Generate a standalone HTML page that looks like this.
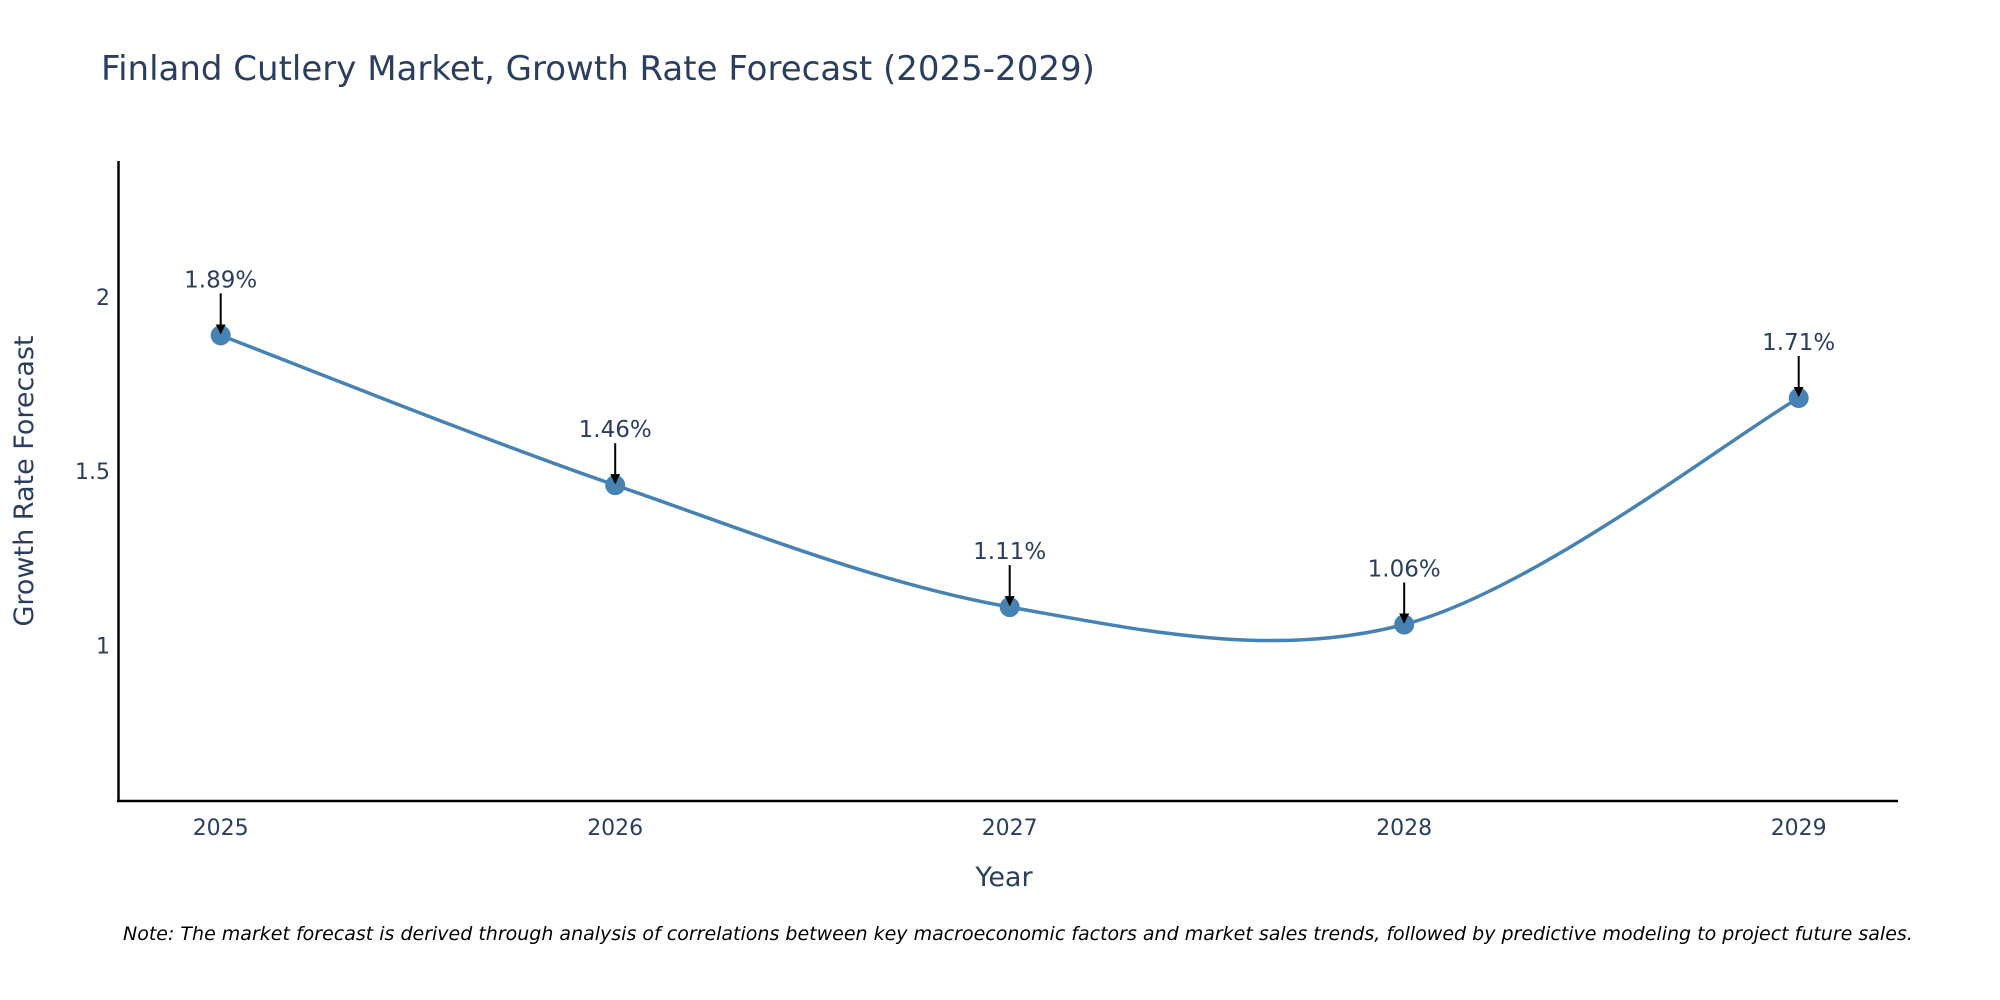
<!DOCTYPE html>
<html><head><meta charset="utf-8">
<style>
body{margin:0;background:#fff;}
svg{display:block;font-family:"DejaVu Sans","Liberation Sans",sans-serif;}
</style></head>
<body>
<svg id="chart" width="2000" height="1000" viewBox="0 0 2000 1000">
<defs>
<marker id="ah" markerWidth="10" markerHeight="10" refX="9" refY="5" orient="auto" markerUnits="userSpaceOnUse" viewBox="0 0 10 10">
<path d="M0,0 L10,5 L0,10 Z" fill="#000"/>
</marker>
</defs>
<text x="101" y="80" font-size="34" fill="#2a3f5f">Finland Cutlery Market, Growth Rate Forecast (2025-2029)</text>
<g id="ticks"></g>
<line x1="118.5" y1="161" x2="118.5" y2="802" stroke="#000" stroke-width="2.5"/>
<line x1="117" y1="801" x2="1898" y2="801" stroke="#000" stroke-width="2.5"/>
<path id="line" fill="none" stroke="#4682b4" stroke-width="3.5"/>
<g id="marks"></g>
<text x="1004" y="886" font-size="27" fill="#2a3f5f" text-anchor="middle">Year</text>
<text transform="translate(33,481) rotate(-90)" font-size="27" fill="#2a3f5f" text-anchor="middle">Growth Rate Forecast</text>
<text x="123" y="940" font-size="19" font-style="italic" fill="#000">Note: The market forecast is derived through analysis of correlations between key macroeconomic factors and market sales trends, followed by predictive modeling to project future sales.</text>
</svg>
<script>
const years = ["2025","2026","2027","2028","2029"];
const values = [1.89, 1.46, 1.11, 1.06, 1.71];
const yTicks = [1, 1.5, 2];
const yTickLabels = ["1","1.5","2"];

const x0 = 220.7, dx = 394.5;
function xs(i){ return x0 + i*dx; }
function ys(v){ return 645.4 - (v-1)*348.4; }
const NS = "http://www.w3.org/2000/svg";
const ticks = document.getElementById('ticks');
const marks = document.getElementById('marks');
function mk(tag, attrs, parent){ const e=document.createElementNS(NS,tag); for(const k in attrs) e.setAttribute(k,attrs[k]); parent.appendChild(e); return e; }

yTicks.forEach((t,i)=>{
  const e = mk('text',{x:110,y:ys(t)+8,'font-size':22,fill:'#2a3f5f','text-anchor':'end'},ticks);
  
  
  e.textContent = yTickLabels[i];
});
years.forEach((y,i)=>{
  const e = mk('text',{x:xs(i),y:835,'font-size':22,fill:'#2a3f5f','text-anchor':'middle'},ticks);
  
  
  e.textContent = y;
});

const P = values.map((v,i)=>[xs(i),ys(v)]);
let d = `M${P[0][0]},${P[0][1]}`;
const tt = 0.5;
for(let i=0;i<P.length-1;i++){
  const p0=P[Math.max(i-1,0)], p1=P[i], p2=P[i+1], p3=P[Math.min(i+2,P.length-1)];
  const c1=[p1[0]+(p2[0]-p0[0])*tt/3, p1[1]+(p2[1]-p0[1])*tt/3];
  const c2=[p2[0]-(p3[0]-p1[0])*tt/3, p2[1]-(p3[1]-p1[1])*tt/3];
  d += ` C${c1[0]},${c1[1]} ${c2[0]},${c2[1]} ${p2[0]},${p2[1]}`;
}
document.getElementById('line').setAttribute('d', d);

values.forEach((v,i)=>{
  const cx=xs(i), cy=ys(v);
  const c = mk('circle',{cx:cx,cy:cy,r:10,fill:'#4682b4'},marks);
  
  
  const a = mk('line',{x1:cx,y1:cy-42,x2:cx,y2:cy-2,stroke:'#000','stroke-width':2,'marker-end':'url(#ah)'},marks);
  
  
  const t = mk('text',{x:cx,y:cy-48,'font-size':23,fill:'#2a3f5f','text-anchor':'middle'},marks);
  
  
  t.textContent = v.toFixed(2)+'%';
});
</script>
</body></html>
